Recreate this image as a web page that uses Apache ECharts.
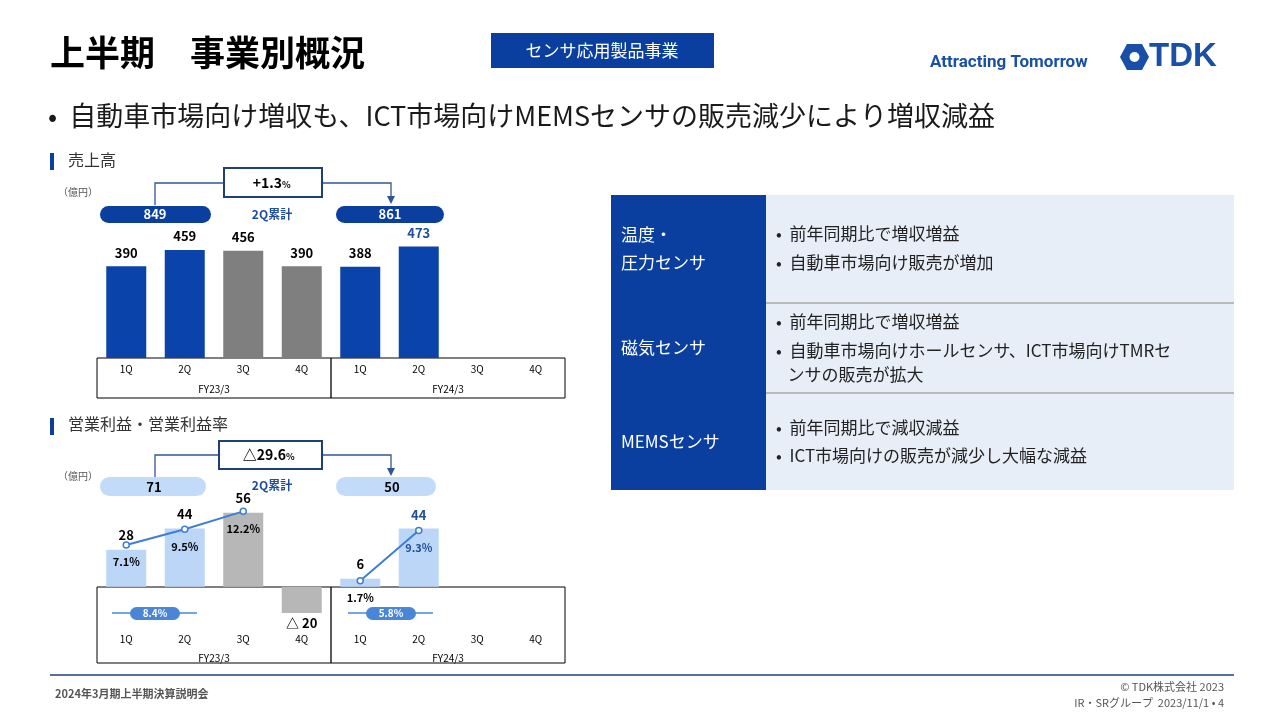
<!DOCTYPE html><html><head><meta charset="utf-8">
<script src="https://cdn.jsdelivr.net/npm/echarts@6/dist/echarts.min.js"></script>
<style>html,body{margin:0;background:#fff}#c{width:1281px;height:720px}</style></head><body><div id="c"></div>
<script>
const quarters=['1Q','2Q','3Q','4Q','1Q','2Q','3Q','4Q'];
const fiscalYears=['FY23/3','FY24/3'];
const sales=[390,459,456,390,388,473,null,null];
const profit=[28,44,56,-20,6,44,null,null];
const margin=[7.1,9.5,12.2,null,1.7,9.3,null,null];
const salesTotals=['849','861'];const salesChange='+1.3';
const profitTotals=['71','50'];const profitChange='△29.6';
const avgMargins=['8.4%','5.8%'];
const F='"Noto Sans CJK JP","Noto Sans",sans-serif';
const BLUE='#0a3fa0';
const ch=echarts.init(document.getElementById('c'));
const salesColors=['#0a43aa','#0a43aa','#7f7f7f','#7f7f7f','#0a43aa','#0a43aa','#0a43aa','#0a43aa'];
const profColors=['#bcd6f7','#bcd6f7','#b7b7b7','#b7b7b7','#bcd6f7','#bcd6f7','#bcd6f7','#bcd6f7'];
const t=(x,y,text,o)=>({type:'text',x,y,style:Object.assign({text,font:'14px '+F,fill:'#000'},o||{})});
const r=(x,y,w,h,fill,o)=>({type:'rect',shape:{x,y,width:w,height:h,r:(o&&o.r)||0},style:{fill,stroke:(o&&o.stroke)||null,lineWidth:(o&&o.lw)||1}});
const ln=(pts,c)=>({type:'polyline',shape:{points:pts},style:{stroke:c||'#2f5597',lineWidth:1.3,fill:null}});
const arrow=(x,y,c)=>({type:'polygon',shape:{points:[[x-4,y-8],[x+4,y-8],[x,y]]},style:{fill:c||'#2f5597'}});
const g=[];
g.push(t(50,53,'上半期　事業別概況',{font:'bold 35px '+F,verticalAlign:'middle'}));
g.push(r(491,33,223,35,BLUE));
g.push(t(602,51,'センサ応用製品事業',{font:'17px '+F,fill:'#fff',align:'center',verticalAlign:'middle'}));
g.push(t(930,63,'Attracting Tomorrow',{font:'bold 17px Roboto,sans-serif',fill:'#1a4fa8',verticalAlign:'middle'}));
g.push(t(1149,57,'TDK',{font:'bold 33px "Liberation Sans",sans-serif',fill:'#1a4fa8',verticalAlign:'middle'}));
g.push({type:'polygon',shape:{points:[[1127,44],[1142,44],[1149,57],[1142,70],[1127,70],[1120,57]]},style:{fill:'#1a4fa8'}});
g.push({type:'circle',shape:{cx:1134.5,cy:57,r:5},style:{fill:'#fff'}});
g.push(t(48,116,'•  自動車市場向け増収も、ICT市場向けMEMSセンサの販売減少により増収減益',{font:'27px '+F,fill:'#1a1a1a',verticalAlign:'middle'}));
g.push(r(50,153,4,17,BLUE));g.push(t(68,152,'売上高',{font:'16px '+F,fill:'#333'}));
g.push(r(50,418,4,17,BLUE));g.push(t(68,416,'営業利益・営業利益率',{font:'16px '+F,fill:'#333'}));
g.push(t(58,187,'（億円）',{font:'10px '+F,fill:'#555'}));
g.push(ln([[155,205],[155,183],[224,183]]));g.push(ln([[322,183],[391,183],[391,198]]));g.push(arrow(391,204));
g.push(r(224,168,98,29,'#fff',{stroke:'#1f3f7a',lw:2}));
g.push(t(282,183,salesChange,{font:'bold 14px '+F,align:'right',verticalAlign:'middle'}));
g.push(t(282,185,'%',{font:'bold 9px '+F,verticalAlign:'middle'}));
g.push(r(100,206,111,17,BLUE,{r:8.5}));g.push(t(155,214.5,salesTotals[0],{font:'bold 13px '+F,fill:'#fff',align:'center',verticalAlign:'middle'}));
g.push(r(336,206,108,17,BLUE,{r:8.5}));g.push(t(390,214.5,salesTotals[1],{font:'bold 13px '+F,fill:'#fff',align:'center',verticalAlign:'middle'}));
g.push(t(272,214,'2Q累計',{font:'bold 12px '+F,fill:'#1f4e9a',align:'center',verticalAlign:'middle'}));
g.push(r(97,358,468,40,null,{stroke:'#000',lw:1}));g.push(ln([[331,358],[331,398]],'#000'));
g.push(t(214,389,fiscalYears[0],{font:'10px '+F,align:'center',verticalAlign:'middle'}));
g.push(t(448,389,fiscalYears[1],{font:'10px '+F,align:'center',verticalAlign:'middle'}));
g.push(t(58,471,'（億円）',{font:'10px '+F,fill:'#555'}));
g.push(ln([[155,477],[155,455],[219,455]]));g.push(ln([[322,455],[391,455],[391,470]]));g.push(arrow(391,476));
g.push(r(219,441,103,28,'#fff',{stroke:'#1f3f7a',lw:2}));
g.push(t(286,455,profitChange,{font:'bold 14px '+F,align:'right',verticalAlign:'middle'}));
g.push(t(286,457,'%',{font:'bold 9px '+F,verticalAlign:'middle'}));
g.push(r(100,477,106,19,'#c2dbf8',{r:9.5}));g.push(t(154,487,profitTotals[0],{font:'bold 13px '+F,align:'center',verticalAlign:'middle'}));
g.push(r(336,477,100,19,'#c2dbf8',{r:9.5}));g.push(t(392,487,profitTotals[1],{font:'bold 13px '+F,align:'center',verticalAlign:'middle'}));
g.push(t(272,485,'2Q累計',{font:'bold 12px '+F,fill:'#1f4e9a',align:'center',verticalAlign:'middle'}));
g.push(r(97,587,468,76,null,{stroke:'#000',lw:1}));g.push(ln([[331,587],[331,663]],'#000'));
g.push(t(214,658,fiscalYears[0],{font:'10px '+F,align:'center',verticalAlign:'middle'}));
g.push(t(448,658,fiscalYears[1],{font:'10px '+F,align:'center',verticalAlign:'middle'}));
[[155,avgMargins[0]],[391,avgMargins[1]]].forEach(([cx,s])=>{
 g.push(ln([[cx-43,613],[cx+42,613]],'#4a86d8'));
 g.push(r(cx-25,607,50,13,'#4a86d8',{r:6.5}));
 g.push(t(cx,613.5,s,{font:'bold 10px '+F,fill:'#fff',align:'center',verticalAlign:'middle'}));
});
const rows=[[195,108,'温度・\n圧力センサ',[[234,'前年同期比で増収増益'],[263,'自動車市場向け販売が増加']]],
 [303,90,'磁気センサ',[[322,'前年同期比で増収増益'],[351,'自動車市場向けホールセンサ、ICT市場向けTMRセ\n   ンサの販売が拡大']]],
 [393,97,'MEMSセンサ',[[428,'前年同期比で減収減益'],[456,'ICT市場向けの販売が減少し大幅な減益']]]];
rows.forEach(([y,h,lab,items],i)=>{
 g.push(r(611,y,155,h,BLUE));g.push(r(766,y,468,h,'#e8eef7'));
 if(i>0)g.push(ln([[766,y],[1234,y]],'#a8a8a8'));
 g.push(t(621,y+h/2,lab,{font:'17px '+F,fill:'#fff',verticalAlign:'middle',lineHeight:28}));
 items.forEach(([yy,s])=>{g.push(t(776,yy-12,'•  '+s,{font:'17px '+F,fill:'#222',verticalAlign:'top',lineHeight:24}));});
});
g.push(ln([[50,675],[1234,675]],'#1f3f7a'));
g.push(t(55,694,'2024年3月期上半期決算説明会',{font:'bold 11px '+F,fill:'#555',verticalAlign:'middle'}));
g.push(t(1224,687,'© TDK株式会社 2023',{font:'11px '+F,fill:'#555',align:'right',verticalAlign:'middle'}));
g.push(t(1224,703,'IR・SRグループ  2023/11/1 • 4',{font:'11px '+F,fill:'#555',align:'right',verticalAlign:'middle'}));
const axisX=(gi)=>({type:'category',gridIndex:gi,data:quarters,axisLine:{show:false},axisTick:{show:false},
 axisLabel:{fontSize:10,fontFamily:F,color:'#000',margin:6,inside:gi==1}});
ch.setOption({animation:false,graphic:g,
 grid:[{left:97,width:468,top:200,height:158},{left:97,width:468,top:481,height:169}],
 xAxis:[axisX(0),axisX(1)],
 yAxis:[{gridIndex:0,min:0,max:671,show:false},{gridIndex:1,min:-48,max:80,show:false},{gridIndex:1,min:-8.8,max:16.8,show:false}],
 series:[
  {type:'bar',xAxisIndex:0,yAxisIndex:0,barWidth:40,data:sales.map((v,i)=>({value:v,itemStyle:{color:salesColors[i]},label:{color:i==5?'#1f4e9a':'#000'}})),
   label:{show:true,position:'top',distance:7,fontFamily:F,fontWeight:'bold',fontSize:13,
    formatter:p=>p.value==null?'':p.value}},
  {type:'bar',xAxisIndex:1,yAxisIndex:1,barWidth:40,data:profit.map((v,i)=>({value:v,itemStyle:{color:profColors[i]},
    label:{position:v<0?'bottom':'top',color:i==5?'#1f4e9a':'#000',distance:v<0?4:(i==5?7:8)}})),
   label:{show:true,fontFamily:F,fontWeight:'bold',fontSize:13,formatter:p=>p.value==null?'':(p.value<0?'△ '+(-p.value):p.value)}},
  {type:'line',xAxisIndex:1,yAxisIndex:2,connectNulls:false,symbol:'circle',symbolSize:6,
   itemStyle:{color:'#fff',borderColor:'#3d7ed8',borderWidth:1.5},lineStyle:{color:'#3d7ed8',width:2},
   label:{show:true,position:'bottom',distance:8,fontFamily:F,fontWeight:'bold',fontSize:11,
    formatter:p=>p.value==null?'':p.value.toFixed(1)+'%',color:'#000'},
   data:margin.map((v,i)=>({value:v,label:{color:i==5?'#1f4e9a':'#000'}}))}
 ]});
</script></body></html>
